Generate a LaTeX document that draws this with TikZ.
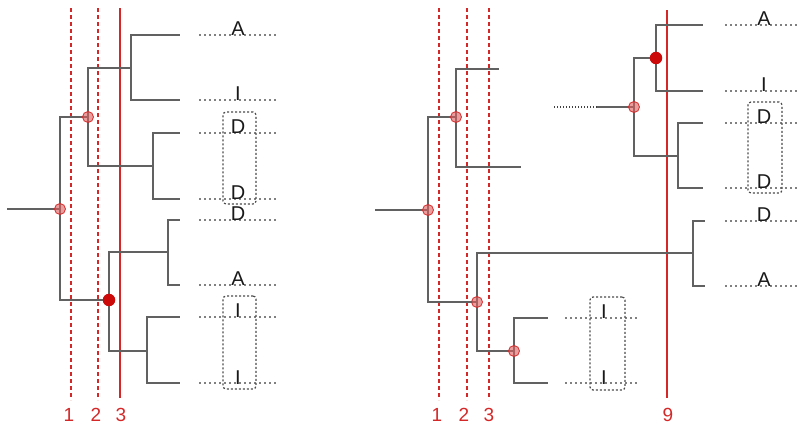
\documentclass[tikz,border=0pt]{standalone}
\usepackage{fontspec}
\setmainfont{Liberation Sans}
\definecolor{rl}{RGB}{212,40,40}
\definecolor{rdot}{RGB}{205,10,10}
\begin{document}
\begin{tikzpicture}[x=1pt,y=-1pt,
  tree/.style={draw=black!62, line width=1.4pt},
  redline/.style={draw=rl, line width=1.9pt},
  reddash/.style={draw=rl, line width=1.4pt, dash pattern=on 4pt off 3pt},
  leafdots/.style={draw=black!50, line width=1.5pt, dash pattern=on 1.5pt off 3.5pt},
  hollow/.style={circle, draw=rl, line width=0.9pt, fill=rl!75, fill opacity=0.6, draw opacity=0.9, inner sep=0pt, minimum size=11pt},
  solidpt/.style={circle, fill=rdot, inner sep=0pt, minimum size=12.5pt},
  lab/.style={anchor=base, inner sep=0pt, font=\fontsize{20}{24}\selectfont, text=black!90},
  num/.style={inner sep=0pt, font=\fontsize{19}{22}\selectfont, text=rl},
  grp/.style={draw=black!70, line width=1.2pt, dash pattern=on 2pt off 2pt, rounded corners=3pt, inner sep=0pt}
]
\useasboundingbox (0,0) rectangle (800,427);

% ---------- red reference lines ----------
\foreach \n/\x/\st in {L1/71/reddash, L2/98/reddash, R1/439/reddash, R2/467/reddash, R3/489/reddash}{
  \coordinate (\n t) at (\x,8); \coordinate (\n b) at (\x,400);
  \path[\st] (\n t) -- (\n b);
}
\coordinate (L3t) at (120,8); \coordinate (L3b) at (120,398);
\path[redline] (L3t) -- (L3b);
\coordinate (R9t) at (667,10); \coordinate (R9b) at (667,398);
\path[redline] (R9t) -- (R9b);
\node[num] (n1) at (69,415) {1};
\node[num] (n2) at (96,415) {2};
\node[num] (n3) at (121,415) {3};
\node[num] (m1) at (437,415) {1};
\node[num] (m2) at (464,415) {2};
\node[num] (m3) at (489,415) {3};
\node[num] (m9) at (668,415) {9};

% ---------- left tree ----------
\coordinate (Ls) at (7,209);
\coordinate (Lr) at (60,209);
\coordinate (Lb1) at (88,117);
\coordinate (Lb2) at (109,300);
\coordinate (Lc1) at (131,68);
\coordinate (Lc2) at (153,166);
\coordinate (Lc3) at (168,252);
\coordinate (Lc4) at (147,351);
\coordinate (la1) at (180,35);
\coordinate (la2) at (180,100);
\coordinate (la3) at (180,133);
\coordinate (la4) at (180,199);
\coordinate (la5) at (180,220);
\coordinate (la6) at (180,285);
\coordinate (la7) at (180,317);
\coordinate (la8) at (180,383);
\path[tree] (Ls) -- (Lr);
\path[tree] (Lr) |- (Lb1);
\path[tree] (Lr) |- (Lb2);
\path[tree] (Lb1) |- (Lc1);
\path[tree] (Lb1) |- (Lc2);
\path[tree] (Lb2) |- (Lc3);
\path[tree] (Lb2) |- (Lc4);
\path[tree] (Lc1) |- (la1); \path[tree] (Lc1) |- (la2);
\path[tree] (Lc2) |- (la3); \path[tree] (Lc2) |- (la4);
\path[tree] (Lc3) |- (la5); \path[tree] (Lc3) |- (la6);
\path[tree] (Lc4) |- (la7); \path[tree] (Lc4) |- (la8);
\node[hollow] (Lrn) at (Lr) {};
\node[hollow] (Lb1n) at (Lb1) {};
\node[solidpt] (Lb2n) at (Lb2) {};

% left labels
\foreach \i/\y/\t in {1/35/A, 2/100/I, 3/133/D, 4/199/D, 5/220/D, 6/285/A, 7/317/I, 8/383/I}{
  \coordinate (ld\i a) at (199,\y); \coordinate (ld\i b) at (277,\y);
  \path[leafdots] (ld\i a) -- (ld\i b);
  \node[lab] (lt\i) at (238,\y+1) {\t};
}
\node[grp, minimum width=33pt, minimum height=92pt] (gLD) at (239.5,158) {};
\node[grp, minimum width=33pt, minimum height=93pt] (gLI) at (239.5,342.5) {};

% ---------- right tree ----------
\coordinate (Rs) at (375,210);
\coordinate (Rr) at (428,210);
\coordinate (Rb1) at (456,117);
\coordinate (Rb2) at (477,302);
\coordinate (Rc3) at (693,253);
\coordinate (Rc4) at (514,351);
\coordinate (ra1) at (499,69);
\coordinate (ra2) at (521,167);
\coordinate (ra5) at (705,221);
\coordinate (ra6) at (705,286);
\coordinate (ra7) at (548,318);
\coordinate (ra8) at (548,383);
\path[tree] (Rs) -- (Rr);
\path[tree] (Rr) |- (Rb1);
\path[tree] (Rr) |- (Rb2);
\path[tree] (Rb1) |- (ra1);
\path[tree] (Rb1) |- (ra2);
\path[tree] (Rb2) |- (Rc3);
\path[tree] (Rb2) |- (Rc4);
\path[tree] (Rc3) |- (ra5); \path[tree] (Rc3) |- (ra6);
\path[tree] (Rc4) |- (ra7); \path[tree] (Rc4) |- (ra8);

% detached subtree
\coordinate (Ss0) at (554,107);
\coordinate (Ss1) at (597,107);
\coordinate (Sr) at (634,107);
\coordinate (Sb1) at (656,58);
\coordinate (Sb2) at (678,156);
\coordinate (sa1) at (703,25);
\coordinate (sa2) at (703,91);
\coordinate (sa3) at (703,123);
\coordinate (sa4) at (703,188);
\path[leafdots, dash pattern=on 1.3pt off 1.7pt, draw=black!75] (Ss0) -- (Ss1);
\path[tree] (Ss1) -- (Sr);
\path[tree] (Sr) |- (Sb1);
\path[tree] (Sr) |- (Sb2);
\path[tree] (Sb1) |- (sa1); \path[tree] (Sb1) |- (sa2);
\path[tree] (Sb2) |- (sa3); \path[tree] (Sb2) |- (sa4);

\node[hollow] (Rrn) at (Rr) {};
\node[hollow] (Rb1n) at (Rb1) {};
\node[hollow] (Rb2n) at (Rb2) {};
\node[hollow] (Rc4n) at (Rc4) {};
\node[hollow] (Srn) at (Sr) {};
\node[solidpt] (Sb1n) at (Sb1) {};

% right labels
\foreach \i/\y/\t in {1/25/A, 2/91/I, 3/123/D, 4/188/D, 5/221/D, 6/286/A}{
  \coordinate (rd\i a) at (725,\y); \coordinate (rd\i b) at (800,\y);
  \path[leafdots] (rd\i a) -- (rd\i b);
  \node[lab] (rt\i) at (764,\y+1) {\t};
}
\foreach \i/\y/\t in {7/318/I, 8/383/I}{
  \coordinate (rd\i a) at (565,\y); \coordinate (rd\i b) at (637,\y);
  \path[leafdots] (rd\i a) -- (rd\i b);
  \node[lab] (rt\i) at (604,\y+1) {\t};
}
\node[grp, minimum width=34pt, minimum height=91pt] (gRD) at (765,147.5) {};
\node[grp, minimum width=35pt, minimum height=93pt] (gRI) at (607.5,343.5) {};
\end{tikzpicture}
\end{document}
